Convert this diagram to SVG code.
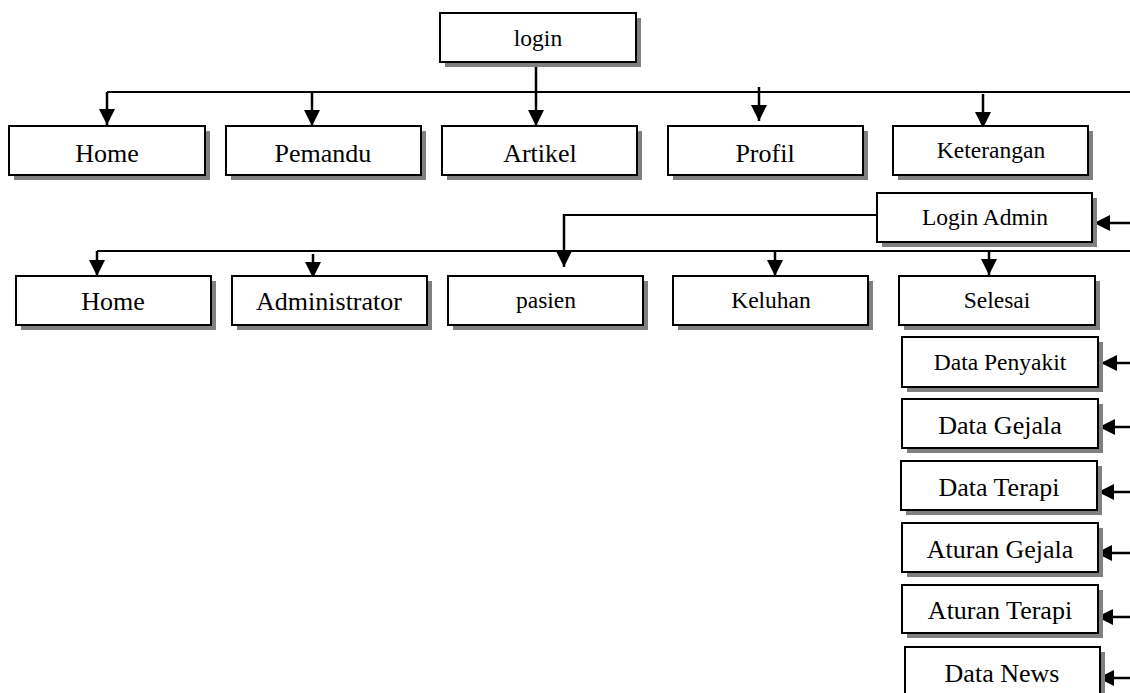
<svg xmlns="http://www.w3.org/2000/svg" width="1130" height="693" viewBox="0 0 1130 693">
  <style>
    .shadow { fill: #808080; }
    .box { fill: #ffffff; stroke: #000000; stroke-width: 2; }
    .lbl { font-family: "Liberation Serif", "Times New Roman", serif; fill: #000000; text-anchor: middle; }
    .big { font-size: 26px; }
    .small { font-size: 23.5px; }
    .wire { fill: none; stroke: #000000; stroke-width: 2; }
    .arr { fill: none; stroke: #000000; stroke-width: 2.5; }
  </style>
  <defs>
    <marker id="arrow" viewBox="0 0 10 10" refX="10" refY="5" markerWidth="6.4" markerHeight="6.4" markerUnits="strokeWidth" orient="auto">
      <path d="M0,0 L10,5 L0,10 Z" fill="#000000"/>
    </marker>
  </defs>
  <rect width="1130" height="693" fill="#ffffff"/>

  <!-- connectors -->
  <g id="connectors">
    <path class="wire" d="M107,92 H1130"/>
    <path class="wire" d="M97,251 H1130"/>
    <path class="wire" d="M877,215 H564"/>
    <path class="arr" d="M536,62 V126" marker-end="url(#arrow)"/>
    <path class="arr" d="M107,92 V125" marker-end="url(#arrow)"/>
    <path class="arr" d="M312,92 V126" marker-end="url(#arrow)"/>
    <path class="arr" d="M759,87 V121" marker-end="url(#arrow)"/>
    <path class="arr" d="M983,94 V128" marker-end="url(#arrow)"/>
    <path class="arr" d="M1130,223 H1094" marker-end="url(#arrow)"/>
    <path class="arr" d="M564,214 V267" marker-end="url(#arrow)"/>
    <path class="arr" d="M97,251 V276" marker-end="url(#arrow)"/>
    <path class="arr" d="M313,254 V278" marker-end="url(#arrow)"/>
    <path class="arr" d="M775,251 V276" marker-end="url(#arrow)"/>
    <path class="arr" d="M989,251 V275" marker-end="url(#arrow)"/>
    <path class="arr" d="M1130,363 H1101" marker-end="url(#arrow)"/>
    <path class="arr" d="M1130,427 H1099" marker-end="url(#arrow)"/>
    <path class="arr" d="M1130,492 H1098" marker-end="url(#arrow)"/>
    <path class="arr" d="M1130,553 H1096" marker-end="url(#arrow)"/>
    <path class="arr" d="M1130,617 H1097" marker-end="url(#arrow)"/>
    <path class="arr" d="M1130,678 H1098" marker-end="url(#arrow)"/>
  </g>

  <g id="login">
    <rect class="shadow" x="445" y="18" width="196" height="49"/>
    <rect class="box" x="440" y="13" width="196" height="49"/>
    <text class="lbl small" x="538" y="46">login</text>
  </g>

  <g id="home">
    <rect class="shadow" x="14" y="131" width="196" height="49"/>
    <rect class="box" x="9" y="126" width="196" height="49"/>
    <text class="lbl big" x="107" y="162">Home</text>
  </g>
  <g id="pemandu">
    <rect class="shadow" x="231" y="131" width="195" height="49"/>
    <rect class="box" x="226" y="126" width="195" height="49"/>
    <text class="lbl big" x="323" y="162">Pemandu</text>
  </g>
  <g id="artikel">
    <rect class="shadow" x="447" y="131" width="195" height="49"/>
    <rect class="box" x="442" y="126" width="195" height="49"/>
    <text class="lbl big" x="540" y="162">Artikel</text>
  </g>
  <g id="profil">
    <rect class="shadow" x="673" y="131" width="195" height="49"/>
    <rect class="box" x="668" y="126" width="195" height="49"/>
    <text class="lbl big" x="765" y="162">Profil</text>
  </g>
  <g id="keterangan">
    <rect class="shadow" x="898" y="131" width="195" height="49"/>
    <rect class="box" x="893" y="126" width="195" height="49"/>
    <text class="lbl small" x="991" y="158">Keterangan</text>
  </g>

  <g id="login-admin">
    <rect class="shadow" x="882" y="198" width="215" height="49"/>
    <rect class="box" x="877" y="193" width="215" height="49"/>
    <text class="lbl small" x="985" y="225">Login Admin</text>
  </g>

  <g id="home-admin">
    <rect class="shadow" x="21" y="281" width="195" height="49"/>
    <rect class="box" x="16" y="276" width="195" height="49"/>
    <text class="lbl big" x="113" y="310">Home</text>
  </g>
  <g id="administrator">
    <rect class="shadow" x="237" y="281" width="195" height="49"/>
    <rect class="box" x="232" y="276" width="195" height="49"/>
    <text class="lbl big" x="329" y="310">Administrator</text>
  </g>
  <g id="pasien">
    <rect class="shadow" x="453" y="281" width="195" height="49"/>
    <rect class="box" x="448" y="276" width="195" height="49"/>
    <text class="lbl small" x="546" y="308">pasien</text>
  </g>
  <g id="keluhan">
    <rect class="shadow" x="678" y="281" width="195" height="49"/>
    <rect class="box" x="673" y="276" width="195" height="49"/>
    <text class="lbl small" x="771" y="308">Keluhan</text>
  </g>
  <g id="selesai">
    <rect class="shadow" x="904" y="281" width="196" height="49"/>
    <rect class="box" x="899" y="276" width="196" height="49"/>
    <text class="lbl small" x="997" y="308">Selesai</text>
  </g>

  <g id="data-penyakit">
    <rect class="shadow" x="907" y="342" width="196" height="50"/>
    <rect class="box" x="902" y="337" width="196" height="50"/>
    <text class="lbl small" x="1000" y="370">Data Penyakit</text>
  </g>
  <g id="data-gejala">
    <rect class="shadow" x="907" y="404" width="196" height="49"/>
    <rect class="box" x="902" y="399" width="196" height="49"/>
    <text class="lbl big" x="1000" y="434">Data Gejala</text>
  </g>
  <g id="data-terapi">
    <rect class="shadow" x="906" y="466" width="196" height="49"/>
    <rect class="box" x="901" y="461" width="196" height="49"/>
    <text class="lbl big" x="999" y="496">Data Terapi</text>
  </g>
  <g id="aturan-gejala">
    <rect class="shadow" x="907" y="528" width="196" height="49"/>
    <rect class="box" x="902" y="523" width="196" height="49"/>
    <text class="lbl big" x="1000" y="558">Aturan Gejala</text>
  </g>
  <g id="aturan-terapi">
    <rect class="shadow" x="907" y="590" width="196" height="48"/>
    <rect class="box" x="902" y="585" width="196" height="48"/>
    <text class="lbl big" x="1000" y="619">Aturan Terapi</text>
  </g>
  <g id="data-news">
    <rect class="shadow" x="910" y="652" width="195" height="60"/>
    <rect class="box" x="905" y="647" width="195" height="60"/>
    <text class="lbl big" x="1002" y="682">Data News</text>
  </g>
</svg>
